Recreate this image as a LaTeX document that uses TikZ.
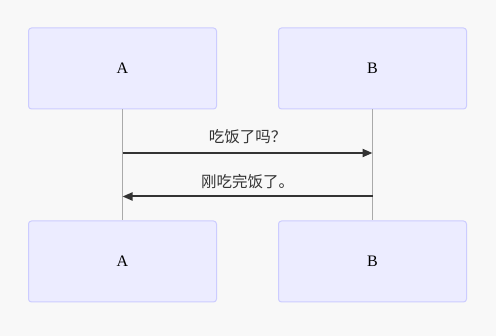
\documentclass[tikz,border=0pt]{standalone}
\usepackage{fontspec}
\setmainfont{Liberation Serif}
\newfontfamily\cjk{Noto Sans CJK SC}
\usetikzlibrary{arrows.meta}
\definecolor{bgcol}{HTML}{F8F8F8}
\definecolor{actorfill}{HTML}{ECECFF}
\definecolor{actorline}{HTML}{CCCCFF}
\definecolor{msgcol}{HTML}{333333}
\definecolor{lifecol}{HTML}{AAAAAA}
\begin{document}
\begin{tikzpicture}[x=1pt,y=-1pt,line join=round,
    actor/.style={draw=actorline,fill=actorfill,line width=1pt,rounded corners=3pt,
      minimum width=188pt,minimum height=81pt,inner sep=0pt,
      font=\rmfamily\fontsize{16}{18}\selectfont},
    msg/.style={draw=msgcol,line width=2pt,-{Triangle[length=10pt,width=8pt]}},
    msglabel/.style={text=msgcol,font=\cjk\fontsize{15.5}{18}\selectfont,inner sep=0pt}]
  \fill[bgcol] (0,0) rectangle (496,336);
  % actors
  \node[actor] (topA) at (122.5,68.5) {A};
  \node[actor] (topB) at (372.5,68.5) {B};
  \node[actor] (botA) at (122.5,261.5) {A};
  \node[actor] (botB) at (372.5,261.5) {B};
  % lifelines
  \draw[lifecol,line width=1pt] (topA.south) -- (botA.north);
  \draw[lifecol,line width=1pt] (topB.south) -- (botB.north);
  % messages
  \coordinate (askA) at (122.5,153);
  \coordinate (askB) at (372.5,153);
  \coordinate (ansB) at (372.5,196.5);
  \coordinate (ansA) at (122.5,196.5);
  \draw[msg] (askA) -- (askB);
  \draw[msg] (ansB) -- (ansA);
  \node[msglabel] (askL) at (247.5,137) {吃饭了吗？};
  \node[msglabel] (ansL) at (247.5,182) {刚吃完饭了。};
\end{tikzpicture}
\end{document}
